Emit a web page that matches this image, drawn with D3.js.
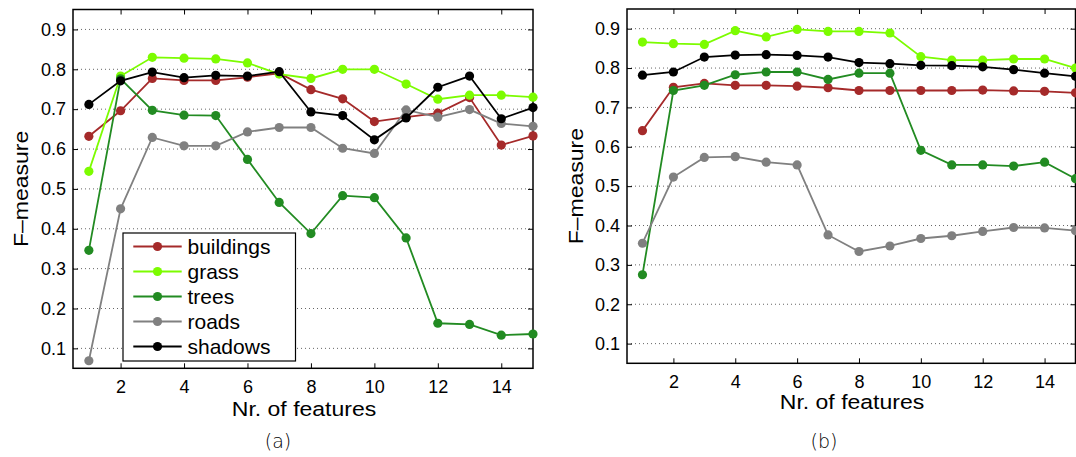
<!DOCTYPE html>
<html>
<head>
<meta charset="utf-8">
<script src="https://cdn.jsdelivr.net/npm/d3@7"></script>
<style>
  html, body { margin: 0; padding: 0; background: #fff; }
  svg { display: block; }
  text { font-family: "Liberation Sans", Arial, sans-serif; fill: #000; }
</style>
</head>
<body>
<svg id="chart" width="1076" height="457"></svg>
<script>
// ---------- data ----------
const features = [1, 2, 3, 4, 5, 6, 7, 8, 9, 10, 11, 12, 13, 14, 15];
const seriesNames = ["buildings", "grass", "trees", "roads", "shadows"];
const xTicks = [2, 4, 6, 8, 10, 12, 14];
const yTicks = [0.1, 0.2, 0.3, 0.4, 0.5, 0.6, 0.7, 0.8, 0.9];
const panelLabels = ["(a)", "(b)"];

// panel (a)
const aBuildings = [0.632, 0.696, 0.777, 0.772, 0.772, 0.780, 0.790, 0.749, 0.726, 0.669, 0.680, 0.690, 0.729, 0.610, 0.633];
const aGrass     = [0.544, 0.783, 0.830, 0.828, 0.826, 0.816, 0.788, 0.777, 0.800, 0.800, 0.763, 0.725, 0.735, 0.735, 0.730];
const aTrees     = [0.346, 0.776, 0.697, 0.685, 0.684, 0.574, 0.466, 0.388, 0.483, 0.478, 0.377, 0.163, 0.160, 0.133, 0.136];
const aRoads     = [0.069, 0.450, 0.629, 0.608, 0.608, 0.643, 0.654, 0.654, 0.602, 0.589, 0.698, 0.680, 0.699, 0.664, 0.657];
const aShadows   = [0.712, 0.771, 0.793, 0.779, 0.785, 0.783, 0.794, 0.693, 0.684, 0.623, 0.678, 0.755, 0.783, 0.676, 0.704];

// panel (b)
const bBuildings = [0.641, 0.751, 0.761, 0.756, 0.756, 0.754, 0.750, 0.743, 0.743, 0.743, 0.743, 0.744, 0.742, 0.741, 0.737];
const bGrass     = [0.866, 0.862, 0.860, 0.895, 0.879, 0.898, 0.893, 0.893, 0.889, 0.829, 0.820, 0.820, 0.823, 0.823, 0.800];
const bTrees     = [0.275, 0.743, 0.756, 0.783, 0.790, 0.790, 0.771, 0.787, 0.787, 0.591, 0.554, 0.554, 0.551, 0.561, 0.519];
const bRoads     = [0.355, 0.523, 0.573, 0.575, 0.561, 0.554, 0.376, 0.334, 0.348, 0.367, 0.374, 0.385, 0.395, 0.394, 0.387];
const bShadows   = [0.782, 0.790, 0.828, 0.833, 0.834, 0.832, 0.828, 0.814, 0.811, 0.807, 0.806, 0.803, 0.796, 0.787, 0.779];

const colors = ["#a52a2a", "#7cfc00", "#228b22", "#808080", "#000000"];

// ---------- layout ----------
const panels = [
  { data: [aBuildings, aGrass, aTrees, aRoads, aShadows], x0: 73, x1: 533, y0: 9.5, y1: 368.3,
    label: panelLabels[0], labelX: 278, xLabelX: 304, xLabelY: 416, yLabelX: 28, legend: true },
  { data: [bBuildings, bGrass, bTrees, bRoads, bShadows], x0: 627, x1: 1075.5, y0: 9, y1: 363.3,
    label: panelLabels[1], labelX: 824, xLabelX: 852, xLabelY: 408.5, yLabelX: 582.5, legend: false }
];

const svg = d3.select("#chart");

panels.forEach(p => {
  const x = d3.scaleLinear().domain([0.5, 15]).range([p.x0, p.x1]);
  const y = d3.scaleLinear().domain([0.05, 0.95]).range([p.y1, p.y0]);
  const g = svg.append("g");

  // grid
  g.selectAll(".grid").data(yTicks).enter().append("line")
    .attr("x1", p.x0).attr("x2", p.x1)
    .attr("y1", d => y(d)).attr("y2", d => y(d))
    .attr("stroke", "#666").attr("stroke-width", 1)
    .attr("stroke-dasharray", "1,3");

  // axes (ticks inward)
  const tl = 5;
  const axB = g.append("g").attr("transform", `translate(0,${p.y1})`)
    .call(d3.axisBottom(x).tickValues(xTicks).tickFormat(d3.format("d")).tickSizeInner(-tl).tickSizeOuter(0).tickPadding(11.5));
  const axT = g.append("g").attr("transform", `translate(0,${p.y0})`)
    .call(d3.axisTop(x).tickValues(xTicks).tickFormat("").tickSizeInner(-tl).tickSizeOuter(0));
  const axL = g.append("g").attr("transform", `translate(${p.x0},0)`)
    .call(d3.axisLeft(y).tickValues(yTicks).tickFormat(d3.format(".1f")).tickSizeInner(-tl).tickSizeOuter(0).tickPadding(7));
  const axR = g.append("g").attr("transform", `translate(${p.x1},0)`)
    .call(d3.axisRight(y).tickValues(yTicks).tickFormat("").tickSizeInner(-tl).tickSizeOuter(0));
  [axB, axT, axL, axR].forEach(a => {
    a.select(".domain").remove();
    a.selectAll("line").attr("stroke", "#000").attr("stroke-width", 1);
    a.selectAll("text").style("font-family", "Liberation Sans, Arial, sans-serif").style("font-size", "18px").attr("fill", "#000");
  });

  // box
  g.append("rect").attr("x", p.x0).attr("y", p.y0)
    .attr("width", p.x1 - p.x0).attr("height", p.y1 - p.y0)
    .attr("fill", "none").attr("stroke", "#000").attr("stroke-width", 1.5);

  // series
  const line = d3.line().x((d, i) => x(features[i])).y(d => y(d));
  p.data.forEach((vals, si) => {
    const sg = g.append("g");
    sg.append("path").datum(vals).attr("d", line)
      .attr("fill", "none").attr("stroke", colors[si]).attr("stroke-width", 1.8);
    sg.selectAll("circle").data(vals).enter().append("circle")
      .attr("cx", (d, i) => x(features[i])).attr("cy", d => y(d))
      .attr("r", 4.6).attr("fill", colors[si]);
  });

  // axis labels (slightly widened as in the original)
  g.append("text")
    .attr("transform", `translate(${p.xLabelX},${p.xLabelY}) scale(1.18,1)`)
    .attr("text-anchor", "middle").style("font-size", "19.5px").text("Nr. of features");
  g.append("text")
    .attr("transform", `translate(${p.yLabelX},${(p.y0 + p.y1) / 2}) rotate(-90) scale(1.18,1)`)
    .attr("text-anchor", "middle").style("font-size", "19.5px").text("F\u2013measure");
  g.append("text").attr("x", p.labelX).attr("y", 448)
    .attr("text-anchor", "middle")
    .style("font-family", "DejaVu Sans, sans-serif")
    .style("font-size", "19px").style("font-weight", "200")
    .text(p.label);

  // legend
  if (p.legend) {
    const lg = svg.append("g");
    lg.append("rect").attr("x", 123).attr("y", 233).attr("width", 172.5).attr("height", 128)
      .attr("fill", "#fff").attr("stroke", "#000").attr("stroke-width", 1.2);
    seriesNames.forEach((name, i) => {
      const yy = 246.5 + i * 25;
      lg.append("line").attr("x1", 133.3).attr("x2", 181.7).attr("y1", yy).attr("y2", yy)
        .attr("stroke", colors[i]).attr("stroke-width", 1.8);
      lg.append("circle").attr("cx", 157.5).attr("cy", yy).attr("r", 4.6).attr("fill", colors[i]);
      lg.append("text").attr("x", 187.5).attr("y", yy + 7.5).style("font-size", "21px").text(name);
    });
  }
});
</script>
</body>
</html>
